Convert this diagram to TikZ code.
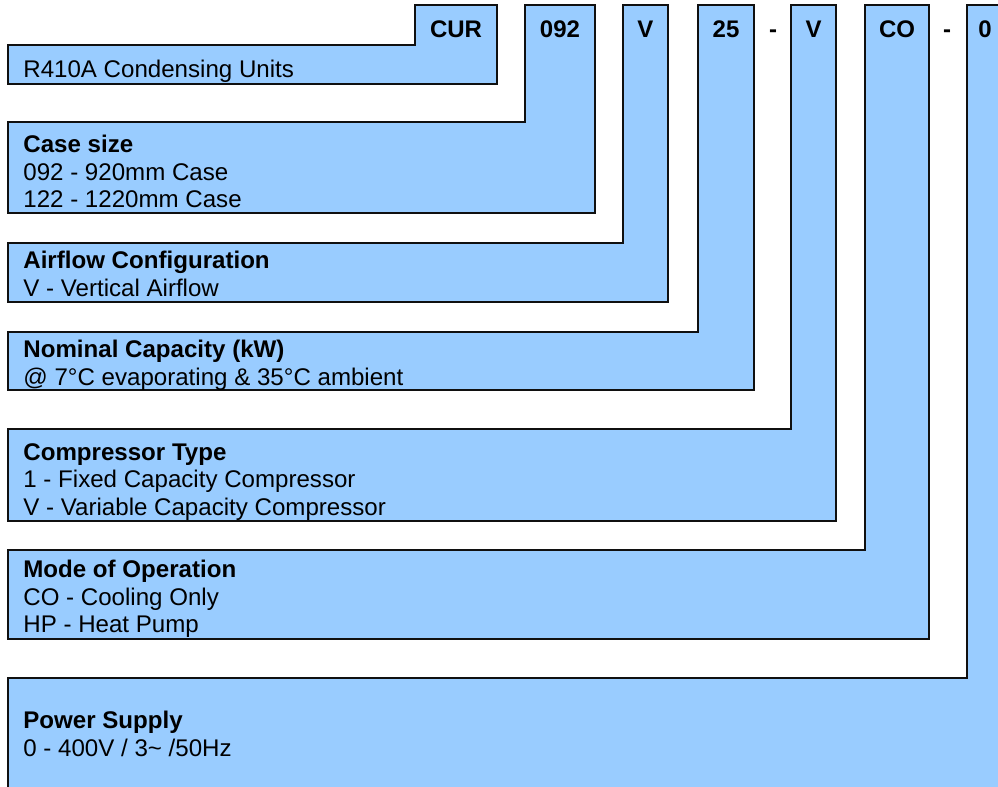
\documentclass[tikz,border=0pt]{standalone}
\usepackage{fontspec}
\setmainfont{Liberation Sans}
\definecolor{CodeBlue}{HTML}{99CCFF}
\definecolor{Edge}{HTML}{101010}

\begin{document}
\begin{tikzpicture}[x=0.5pt,y=-0.5pt,leg/.style={draw=Edge, fill=CodeBlue, line width=1.1pt, line join=miter},codetext/.style={font=\fontsize{12}{13.75}\selectfont\bfseries, inner sep=0pt, anchor=base},desctext/.style={font=\fontsize{12.05}{13.75}\selectfont, inner sep=0pt, anchor=north west, align=left}]
\useasboundingbox (0,0) rectangle (998,787);
\clip (0,0) rectangle (998,787);
% one leg per character group of the code
\draw[leg] (415,5) -- (497,5) -- (497,84) -- (8,84) -- (8,45) -- (415,45) -- cycle;
\draw[leg] (525,5) -- (595,5) -- (595,213) -- (8,213) -- (8,122) -- (525,122) -- cycle;
\draw[leg] (623,5) -- (668,5) -- (668,302) -- (8,302) -- (8,243) -- (623,243) -- cycle;
\draw[leg] (698,5) -- (754,5) -- (754,390) -- (8,390) -- (8,332) -- (698,332) -- cycle;
\draw[leg] (791,5) -- (836,5) -- (836,521) -- (8,521) -- (8,429) -- (791,429) -- cycle;
\draw[leg] (865,5) -- (929,5) -- (929,639) -- (8,639) -- (8,550) -- (865,550) -- cycle;
\draw[leg] (967,5) -- (1030,5) -- (1030,792) -- (8,792) -- (8,678) -- (967,678) -- cycle;
% code
\node[codetext] (series) at (456,38) {CUR};
\node[codetext] (casecode) at (560,38) {092};
\node[codetext] (flowcode) at (645.5,38) {V};
\node[codetext] (capcode) at (726,38) {25};
\node[codetext] (dashA) at (773,38) {-};
\node[codetext] (compcode) at (813.5,38) {V};
\node[codetext] (modecode) at (897,38) {CO};
\node[codetext] (dashB) at (947,38) {-};
\node[codetext] (powercode) at (985,38) {0};
% descriptions
\node[desctext] (series-d) at (23,60) {R410A Condensing Units};
\node[desctext] (case-d) at (23,135) {\textbf{Case size}\\092 - 920mm Case\\122 - 1220mm Case};
\node[desctext] (flow-d) at (23,251) {\textbf{Airflow Configuration}\\V - Vertical Airflow};
\node[desctext] (cap-d) at (23,340) {\textbf{Nominal Capacity (kW)}\\@ 7°C evaporating \& 35°C ambient};
\node[desctext] (comp-d) at (23,443) {\textbf{Compressor Type}\\1 - Fixed Capacity Compressor\\V - Variable Capacity Compressor};
\node[desctext] (mode-d) at (23,560) {\textbf{Mode of Operation}\\CO - Cooling Only\\HP - Heat Pump};
\node[desctext] (power-d) at (23,711) {\textbf{Power Supply}\\0 - 400V / 3\textasciitilde{} /50Hz};
\end{tikzpicture}
\end{document}
